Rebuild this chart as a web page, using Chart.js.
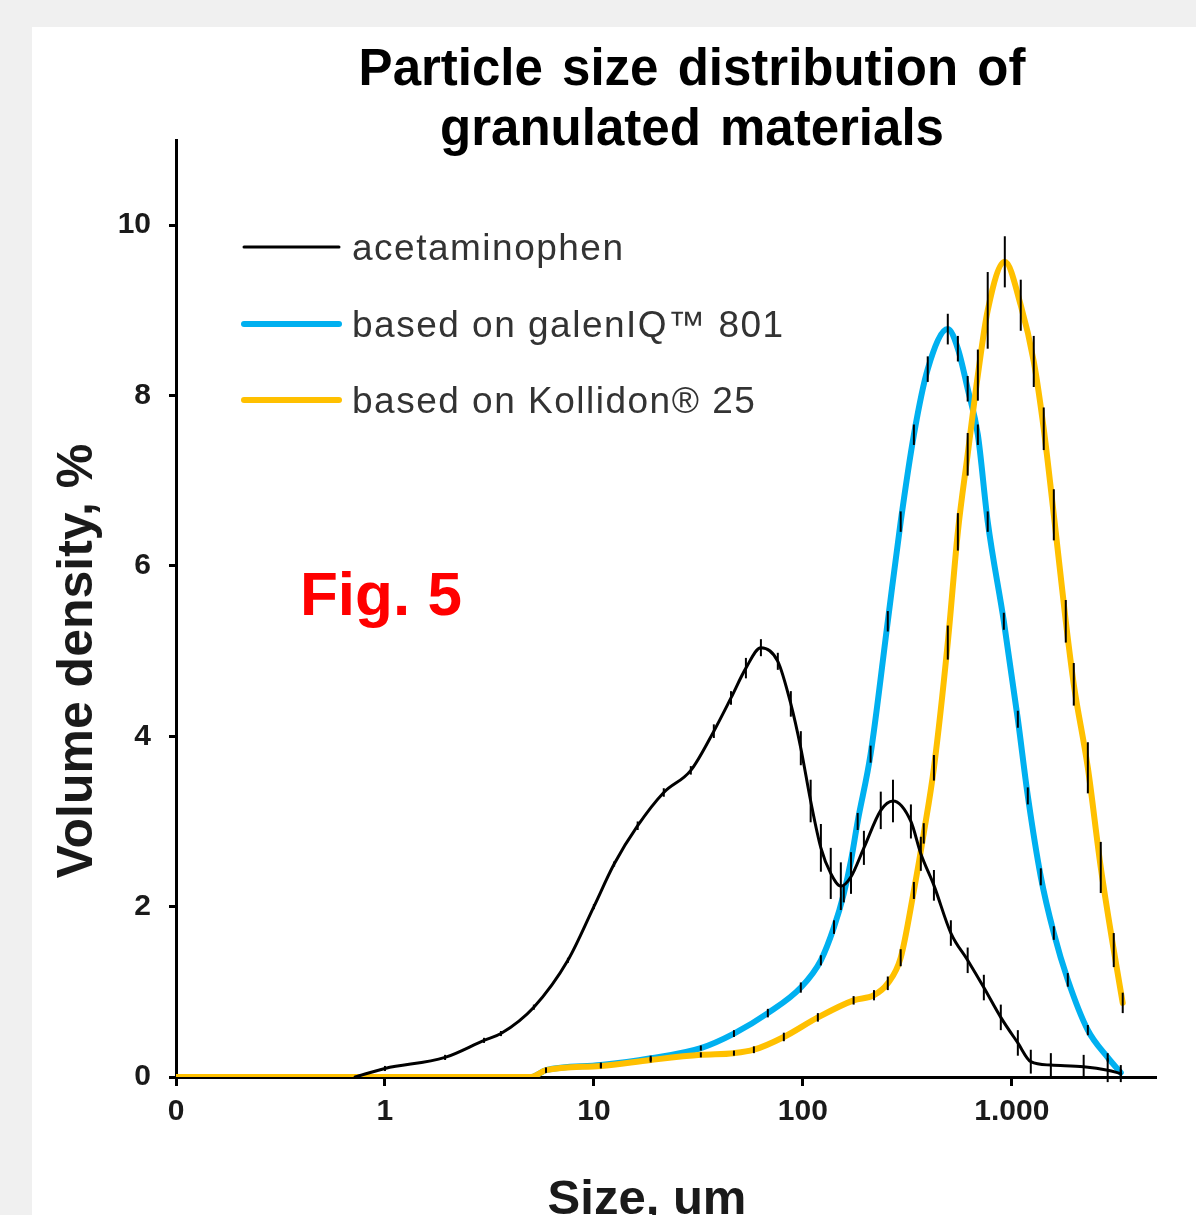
<!DOCTYPE html>
<html>
<head>
<meta charset="utf-8">
<script src="https://cdn.jsdelivr.net/npm/chart.js@4.4.1/dist/chart.umd.min.js"></script>
<style>
html, body { margin: 0; padding: 0; background: #f0f0f0; }
body { width: 1196px; height: 1215px; overflow: hidden; position: relative; }
#panel { position: absolute; left: 32px; top: 27px; width: 1164px; height: 1188px; background: #fff; }
#chart { display: block; }
</style>
</head>
<body>
<div id="panel"><canvas id="chart" width="1164" height="1188"></canvas></div>
<script>
// Particle sizes (um) and volume density (%)
const titleLines = ['Particle size distribution of', 'granulated materials'];
const seriesLabels = ['acetaminophen', 'based on galenIQ\u2122 801', 'based on Kollidon\u00ae 25'];

const acetSizes = [0.72, 1.0, 1.94, 2.98, 3.59, 5.16, 7.51, 10.0, 12.5, 16.2,
    21.6, 29.1, 37.5, 45.3, 53.4, 63.0, 75.9, 87.6, 97.8, 109,
    122, 136, 152, 170, 196, 236, 270, 329, 367, 424,
    511, 615, 735, 886, 1069, 1233, 1538, 2208, 2877, 3324];
const acetValues = [0, 0.10, 0.23, 0.43, 0.51, 0.82, 1.37, 2.0, 2.5, 2.95,
    3.34, 3.6, 4.06, 4.45, 4.8, 5.04, 4.88, 4.38, 3.86, 3.24,
    2.69, 2.39, 2.24, 2.35, 2.69, 3.13, 3.24, 3.0, 2.62, 2.25,
    1.69, 1.37, 1.05, 0.7, 0.4, 0.18, 0.14, 0.12, 0.08, 0.04];
const acetErrors = [0, 0.03, 0.03, 0.03, 0.03, 0.03, 0.03, 0.03, 0.03, 0.05,
    0.05, 0.05, 0.08, 0.08, 0.12, 0.1, 0.1, 0.15, 0.2, 0.25,
    0.28, 0.3, 0.28, 0.2, 0.2, 0.22, 0.25, 0.2, 0.2, 0.18,
    0.15, 0.15, 0.15, 0.15, 0.15, 0.14, 0.14, 0.14, 0.14, 0.1];

const galenSizes = [0.1, 5.0, 5.9, 10.8, 18.7, 32.5, 46.8, 68.0, 97.8, 122,
    141, 157, 170, 183, 211, 255, 294, 340, 396, 494,
    552, 615, 688, 767, 916, 1069, 1193, 1377, 1589, 1854,
    2312, 2877, 3324];
const galenValues = [0, 0, 0.08, 0.14, 0.22, 0.34, 0.51, 0.75, 1.05, 1.37,
    1.76, 2.15, 2.54, 3.0, 3.79, 5.35, 6.52, 7.54, 8.31, 8.78,
    8.55, 8.08, 7.54, 6.52, 5.35, 4.2, 3.3, 2.35, 1.69, 1.14,
    0.55, 0.23, 0.05];
const galenErrors = [0, 0, 0.03, 0.03, 0.03, 0.03, 0.04, 0.05, 0.06, 0.06,
    0.08, 0.1, 0.1, 0.1, 0.1, 0.12, 0.12, 0.12, 0.15, 0.18,
    0.15, 0.15, 0.12, 0.12, 0.1, 0.1, 0.1, 0.1, 0.08, 0.08,
    0.06, 0.05, 0.04];

const kollSizes = [0.1, 5.0, 5.9, 10.8, 18.7, 32.5, 46.8, 58.3, 81.1, 118,
    175, 219, 255, 294, 340, 379, 424, 494, 552, 615,
    688, 767, 926, 1104, 1274, 1422, 1589, 1813, 1980, 2312,
    2666, 3076, 3396];
const kollValues = [0, 0, 0.08, 0.13, 0.2, 0.26, 0.28, 0.32, 0.47, 0.7,
    0.9, 0.96, 1.1, 1.4, 2.19, 2.86, 3.63, 5.1, 6.4, 7.31,
    8.24, 9.0, 9.57, 9.06, 8.4, 7.61, 6.6, 5.35, 4.61, 3.63,
    2.46, 1.49, 0.87];
const kollErrors = [0, 0, 0.03, 0.03, 0.03, 0.03, 0.03, 0.04, 0.05, 0.05,
    0.05, 0.06, 0.08, 0.1, 0.1, 0.12, 0.15, 0.2, 0.22, 0.25,
    0.3, 0.45, 0.3, 0.3, 0.3, 0.25, 0.3, 0.25, 0.25, 0.3,
    0.3, 0.2, 0.12];

const sizeTicks = [0.1, 1, 10, 100, 1000];
const densityTicks = [0, 2, 4, 6, 8, 10];

const FONT = '"Liberation Sans", Arial, sans-serif';

function toPoints(sizes, values) {
    return sizes.map((s, i) => ({ x: s, y: values[i] }));
}

// draw text char by char so letter and word spacing can be widened
function spacedText(ctx, text, x, y, letterGap, wordGap, align) {
    const chars = Array.from(text);
    const widths = chars.map(c => ctx.measureText(c).width + letterGap + (c === ' ' ? wordGap : 0));
    const total = widths.reduce((a, b) => a + b, 0) - letterGap;
    let cx = align === 'center' ? x - total / 2 : x;
    ctx.textAlign = 'left';
    chars.forEach((c, i) => {
        ctx.fillText(c, cx, y);
        cx += widths[i];
    });
}

// vertical error bars at every measured point
const errorBars = {
    id: 'errorBars',
    afterDatasetsDraw(chart) {
        const ctx = chart.ctx;
        const yScale = chart.scales.y;
        ctx.save();
        ctx.strokeStyle = '#000';
        ctx.lineWidth = 2;
        chart.data.datasets.forEach((ds, i) => {
            const meta = chart.getDatasetMeta(i);
            meta.data.forEach((pt, j) => {
                const e = ds.errors[j];
                if (!e) return;
                const v = ds.data[j].y;
                ctx.beginPath();
                ctx.moveTo(pt.x, yScale.getPixelForValue(v + e));
                ctx.lineTo(pt.x, yScale.getPixelForValue(v - e));
                ctx.stroke();
            });
        });
        ctx.restore();
    }
};

// title, axis titles, legend and figure label
const annotations = {
    id: 'annotations',
    afterDraw(chart) {
        const ctx = chart.ctx;
        ctx.save();
        ctx.fillStyle = '#000';
        ctx.textBaseline = 'alphabetic';
        ctx.font = 'bold 51px ' + FONT;
        spacedText(ctx, titleLines[0], 660, 58, 0, 5, 'center');
        spacedText(ctx, titleLines[1], 660, 118, 0, 5, 'center');

        // legend
        const rows = [220, 297, 373];
        chart.data.datasets.forEach((ds, i) => {
            ctx.strokeStyle = ds.borderColor;
            ctx.lineWidth = ds.borderWidth;
            ctx.lineCap = 'round';
            ctx.beginPath();
            ctx.moveTo(212, rows[i]);
            ctx.lineTo(307, rows[i]);
            ctx.stroke();
            ctx.fillStyle = '#333';
            ctx.font = '37px ' + FONT;
            spacedText(ctx, ds.label, 320, rows[i] + 13, 1.5, 0, 'left');
        });

        ctx.fillStyle = '#ff0000';
        ctx.font = 'bold 62px ' + FONT;
        ctx.textAlign = 'left';
        ctx.fillText('Fig. 5', 268, 588);

        ctx.fillStyle = '#1a1a1a';
        ctx.font = 'bold 49px ' + FONT;
        ctx.textAlign = 'center';
        ctx.fillText('Size, um', 615, 1187);

        ctx.translate(60, 634);
        ctx.rotate(-Math.PI / 2);
        ctx.font = 'bold 50px ' + FONT;
        ctx.fillText('Volume density, %', 0, 0);
        ctx.restore();
    }
};

const tickFont = { family: FONT, size: 30, weight: 'bold' };

new Chart(document.getElementById('chart'), {
    type: 'line',
    data: {
        datasets: [
            {
                label: seriesLabels[0],
                data: toPoints(acetSizes, acetValues),
                errors: acetErrors,
                borderColor: '#000000',
                borderWidth: 3,
                order: 0
            },
            {
                label: seriesLabels[1],
                data: toPoints(galenSizes, galenValues),
                errors: galenErrors,
                borderColor: '#00b0f0',
                borderWidth: 6,
                order: 2
            },
            {
                label: seriesLabels[2],
                data: toPoints(kollSizes, kollValues),
                errors: kollErrors,
                borderColor: '#ffc000',
                borderWidth: 6,
                order: 1
            }
        ]
    },
    options: {
        responsive: false,
        animation: false,
        devicePixelRatio: 1,
        layout: { padding: { top: 113, right: 40, left: 0, bottom: 0 } },
        elements: {
            point: { radius: 0, hoverRadius: 0 },
            line: { cubicInterpolationMode: 'monotone', borderCapStyle: 'round', borderJoinStyle: 'round' }
        },
        plugins: {
            legend: { display: false },
            title: { display: false },
            tooltip: { enabled: false }
        },
        scales: {
            x: {
                type: 'logarithmic',
                min: 0.1,
                max: 4900,
                afterBuildTicks: s => { s.ticks = sizeTicks.map(v => ({ value: v })); },
                afterFit: s => { s.height = 138; },
                border: { display: true, color: '#000', width: 3 },
                grid: { display: true, drawOnChartArea: false, drawTicks: true, tickLength: 9, tickWidth: 3, tickColor: '#000' },
                ticks: {
                    autoSkip: false,
                    maxRotation: 0,
                    padding: 8,
                    color: '#1a1a1a',
                    font: tickFont,
                    callback: v => v === 0.1 ? '0' : (v === 1000 ? '1.000' : String(v))
                }
            },
            y: {
                min: 0,
                max: 11,
                afterBuildTicks: s => { s.ticks = densityTicks.map(v => ({ value: v })); },
                afterFit: s => { s.width = 144; },
                border: { display: true, color: '#000', width: 3 },
                grid: { display: true, drawOnChartArea: false, drawTicks: true, tickLength: 7, tickWidth: 3, tickColor: '#000' },
                ticks: {
                    padding: 18,
                    color: '#1a1a1a',
                    font: tickFont
                }
            }
        }
    },
    plugins: [errorBars, annotations]
});
</script>
</body>
</html>
